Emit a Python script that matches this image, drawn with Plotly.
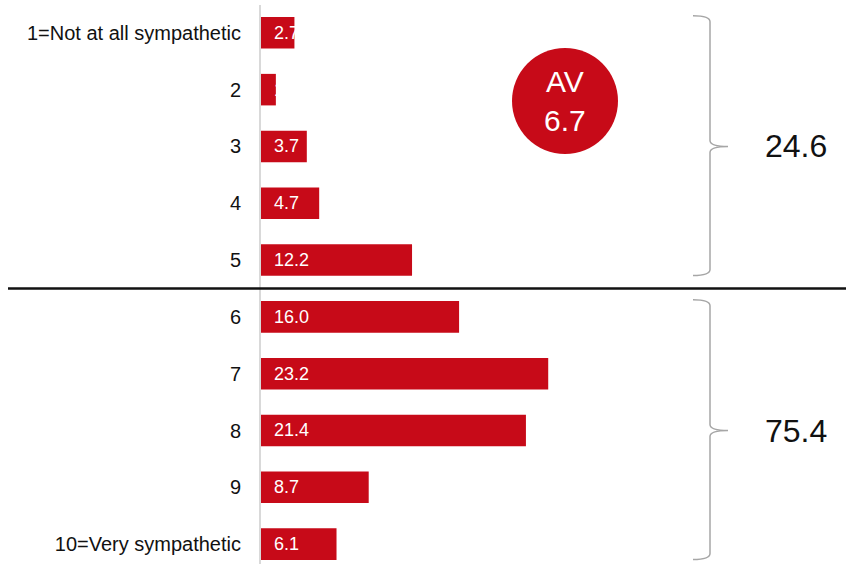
import plotly.graph_objects as go

# ---- data ----
categories = ["1=Not at all sympathetic", "2", "3", "4", "5",
              "6", "7", "8", "9", "10=Very sympathetic"]
values = [2.7, 1.2, 3.7, 4.7, 12.2, 16.0, 23.2, 21.4, 8.7, 6.1]
group_totals = ["24.6", "75.4"]
group_ranges = [(0, 4), (5, 9)]
average_label = "AV<br>6.7"

# ---- style ----
FONT = "Liberation Sans, Arial, Helvetica, sans-serif"
RED = "#C70A18"
W, H = 846, 564
ML, MR, MT, MB = 261, 0, 5, 0
PX_PER_UNIT = 12.38
x_max = (W - ML - MR) / PX_PER_UNIT
ypos = list(range(len(categories)))
Y_TOP, Y_BOT = -0.49, 9.35
px_per_cat = (H - MT - MB) / (Y_BOT - Y_TOP)


def px_to_x(px):
    return (px - ML) / PX_PER_UNIT


def px_to_y(py):
    return Y_TOP + (py - MT) / px_per_cat


fig = go.Figure(go.Bar(
    x=values, y=ypos, orientation="h",
    marker=dict(color=RED, line=dict(width=0)),
    width=0.555,
    texttemplate="\u00a0\u00a0%{x:.1f}",
    textposition="inside", insidetextanchor="start",
    textangle=0, constraintext="none",
    insidetextfont=dict(color="white", size=18, family=FONT),
    hoverinfo="skip",
))

shapes = []
annotations = []

# divider line between the two groups
shapes.append(dict(type="line", xref="paper", yref="y",
                   x0=(8 - ML) / (W - ML - MR), x1=1, y0=4.5, y1=4.5,
                   line=dict(color="#111111", width=2.5)))

# curly brackets + totals
xl, xv, xt = px_to_x(693), px_to_x(710), px_to_x(728)
c = 6 / px_per_cat
for (a, b), total in zip(group_ranges, group_totals):
    yt = a - 0.3
    yb = b + 0.27
    ym = (a + b) / 2
    path = (f"M {xl},{yt} Q {xv},{yt} {xv},{yt + c} "
            f"L {xv},{ym - c} Q {xv},{ym} {xt},{ym} "
            f"Q {xv},{ym} {xv},{ym + c} "
            f"L {xv},{yb - c} Q {xv},{yb} {xl},{yb}")
    shapes.append(dict(type="path", xref="x", yref="y", path=path,
                       line=dict(color="#A6A6A6", width=1.5)))
    annotations.append(dict(x=px_to_x(796), y=ym, xref="x", yref="y",
                            text=total, showarrow=False,
                            xanchor="center", yanchor="middle",
                            font=dict(size=32, color="#111111", family=FONT)))

# average circle
cx, cy = px_to_x(565), px_to_y(101)
shapes.append(dict(type="circle", xref="x", yref="y",
                   xsizemode="pixel", ysizemode="pixel",
                   xanchor=cx, yanchor=cy, x0=-53, x1=53, y0=-53, y1=53,
                   fillcolor=RED, line=dict(width=0)))
annotations.append(dict(x=cx, y=cy, xref="x", yref="y", text=average_label,
                        showarrow=False, xanchor="center", yanchor="middle",
                        font=dict(size=30, color="white", family=FONT)))

fig.update_layout(
    width=W, height=H,
    margin=dict(l=ML, r=MR, t=MT, b=MB, pad=0),
    paper_bgcolor="white", plot_bgcolor="white",
    showlegend=False,
    shapes=shapes, annotations=annotations,
    xaxis=dict(range=[0, x_max], showgrid=False, zeroline=False,
               showticklabels=False, showline=False, fixedrange=True),
    yaxis=dict(range=[Y_BOT, Y_TOP], tickvals=ypos, ticktext=categories,
               showgrid=False, zeroline=False, showline=True,
               linecolor="#D9D9D9", linewidth=2, ticks="",
               ticklabelstandoff=14,
               tickfont=dict(size=20, color="#111111", family=FONT),
               fixedrange=True),
)

fig.write_html(
    "out.html",
    config={"displayModeBar": False},
    post_script="document.body.style.margin='0';document.body.style.overflow='hidden';",
)
